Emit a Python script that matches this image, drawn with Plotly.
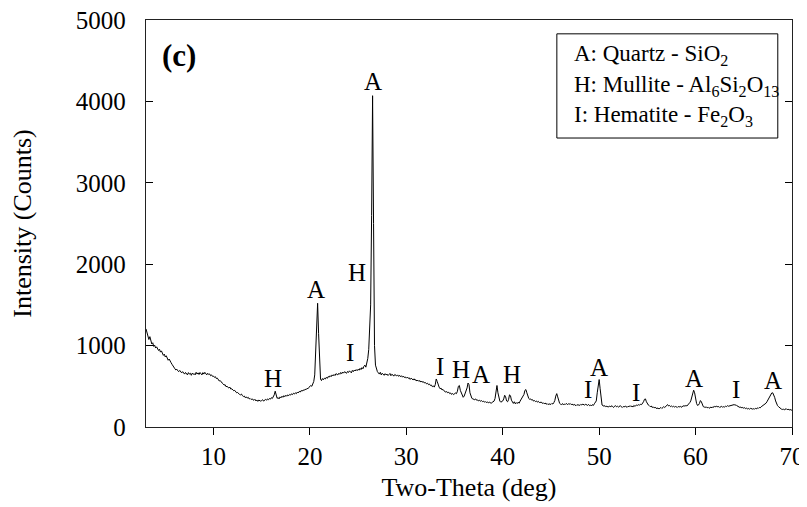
import plotly.graph_objects as go

# XRD scan: start angle, step (deg) and intensity (counts)
scan_start = 3.0
scan_step = 0.1
intensity = [
    # 3.0 - 3.9
    1205, 1150, 1090, 1075, 1110, 1040, 1020, 1035, 990, 1005,
    # 4
    970, 985, 950, 940, 955, 920, 935, 900, 880, 895,
    # 5
    860, 875, 840, 820, 835, 800, 790, 770, 745, 730,
    # 6
    715, 700, 710, 690, 680, 695, 672, 665, 680, 660,
    # 7
    650, 670, 655, 640, 668, 650, 660, 635, 662, 648,
    # 8
    655, 640, 672, 650, 665, 645, 670, 652, 640, 668,
    # 9
    650, 672, 655, 640, 660, 645, 652, 630, 640, 622,
    # 10
    625, 610, 618, 595, 600, 578, 565, 570, 548, 540,
    # 11
    530, 515, 520, 495, 500, 485, 478, 490, 465, 470,
    # 12
    458, 445, 450, 430, 420, 425, 405, 400, 395, 405,
    # 13
    385, 375, 380, 360, 370, 355, 365, 345, 350, 338,
    # 14
    345, 335, 328, 340, 320, 332, 315, 330, 322, 318,
    # 15
    325, 335, 318, 330, 340, 328, 345, 335, 350, 342,
    # 16
    360, 350, 368, 395, 440, 385, 352, 362, 345, 370,
    # 17
    358, 378, 365, 385, 372, 390, 378, 395, 385, 400,
    # 18
    392, 408, 398, 415, 405, 420, 410, 430, 418, 438,
    # 19
    430, 448, 440, 455, 448, 465, 458, 475, 470, 488,
    # 20
    495, 510, 500, 525, 560, 640, 900, 1280, 1520, 1150,
    # 21
    700, 590, 570, 595, 580, 600, 590, 610, 598, 620,
    # 22
    612, 630, 618, 640, 628, 645, 632, 655, 648, 640,
    # 23
    660, 648, 670, 655, 675, 662, 680, 668, 660, 682,
    # 24
    670, 690, 675, 665, 695, 680, 700, 688, 705, 692,
    # 25
    710, 698, 720, 705, 730, 715, 745, 760, 735, 790,
    # 26
    840, 950, 1150, 1500, 2600, 4070, 2500, 1000, 760, 700,
    # 27
    680, 665, 650, 672, 640, 660, 648, 635, 655, 640,
    # 28
    650, 632, 645, 658, 630, 648, 640, 625, 645, 632,
    # 29
    628, 640, 622, 635, 618, 630, 612, 625, 608, 615,
    # 30
    600, 612, 598, 605, 585, 600, 590, 578, 592, 575,
    # 31
    580, 565, 575, 560, 570, 552, 565, 548, 555, 540,
    # 32
    545, 530, 538, 520, 528, 510, 515, 495, 505, 490,
    # 33
    520, 590, 560, 510, 490, 470, 478, 455, 462, 445,
    # 34
    440, 428, 435, 420, 428, 410, 418, 400, 412, 398,
    # 35
    405, 420, 410, 440, 500, 510, 450, 420, 380, 365,
    # 36
    380, 410, 440, 480, 540, 520, 420, 370, 352, 345,
    # 37
    340, 335, 345, 328, 332, 320, 330, 315, 325, 312,
    # 38
    318, 305, 312, 300, 310, 296, 305, 300, 292, 302,
    # 39
    310, 318, 350, 440, 510, 420, 340, 318, 305, 310,
    # 40
    320, 345, 390, 370, 320, 310, 335, 395, 385, 330,
    # 41
    300, 290, 310, 285, 300, 288, 305, 292, 318, 340,
    # 42
    350, 365, 400, 450, 460, 420, 370, 350, 340, 345,
    # 43
    330, 335, 318, 325, 312, 320, 305, 315, 300, 298,
    # 44
    305, 290, 298, 285, 295, 280, 288, 275, 285, 280,
    # 45
    278, 290, 282, 300, 325, 380, 410, 370, 310, 290,
    # 46
    280, 275, 288, 270, 282, 278, 290, 275, 285, 280,
    # 47
    288, 275, 282, 268, 278, 270, 262, 275, 268, 272,
    # 48
    265, 278, 270, 282, 275, 268, 280, 272, 265, 278,
    # 49
    262, 270, 258, 275, 265, 285, 300, 320, 420, 550,
    # 50
    583, 470, 330, 270, 262, 255, 262, 248, 258, 245,
    # 51
    250, 258, 245, 262, 250, 240, 255, 262, 248, 255,
    # 52
    245, 255, 262, 248, 240, 252, 245, 258, 250, 242,
    # 53
    255, 248, 262, 250, 258, 245, 265, 255, 262, 270,
    # 54
    265, 275, 268, 280, 275, 290, 310, 340, 345, 310,
    # 55
    285, 270, 262, 250, 258, 240, 248, 235, 242, 230,
    # 56
    225, 235, 222, 230, 240, 228, 245, 250, 240, 255,
    # 57
    262, 275, 258, 265, 250, 258, 248, 255, 245, 252,
    # 58
    248, 240, 252, 245, 255, 242, 250, 258, 262, 255,
    # 59
    265, 258, 270, 280, 300, 320, 370, 430, 452, 420,
    # 60
    350, 290, 265, 270, 290, 325, 310, 265, 250, 245,
    # 61
    240, 248, 235, 242, 230, 238, 245, 235, 250, 242,
    # 62
    255, 248, 258, 245, 252, 240, 248, 255, 242, 250,
    # 63
    245, 255, 250, 262, 255, 258, 265, 262, 270, 268,
    # 64
    275, 268, 272, 260, 252, 248, 240, 245, 235, 240,
    # 65
    230, 238, 225, 232, 222, 228, 218, 230, 225, 220,
    # 66
    225, 218, 230, 222, 235, 228, 240, 235, 248, 255,
    # 67
    262, 270, 278, 292, 310, 330, 355, 380, 405, 418,
    # 68
    420, 400, 365, 320, 285, 262, 250, 235, 228, 220,
    # 69
    215, 222, 210, 218, 225, 212, 220, 208, 215, 210,
    # 70
    205,
]
two_theta = [round(scan_start + scan_step * i, 1) for i in range(len(intensity))]

# Phase labels on the peaks
peak_labels = ["H", "A", "I", "H", "A", "I", "H", "A", "H", "I", "A", "I", "A", "I", "A"]
peak_label_x = [16.15, 20.6, 24.2, 24.9, 26.5, 33.45, 35.7, 37.7, 41.0, 48.8, 50.0, 53.8, 59.8, 64.2, 68.0]
peak_label_y = [595, 1687, 914, 1895, 4243, 746, 705, 644, 644, 460, 726, 420, 595, 460, 570]

legend_lines = [
    "A: Quartz - SiO<sub>2</sub>",
    "H: Mullite - Al<sub>6</sub>Si<sub>2</sub>O<sub>13</sub>",
    "I: Hematite - Fe<sub>2</sub>O<sub>3</sub>",
]
legend_line_y = [0.915, 0.837, 0.763]

x_ticks = [10, 20, 30, 40, 50, 60, 70]
y_ticks = [0, 1000, 2000, 3000, 4000, 5000]

FONT = "Liberation Serif, Times New Roman, serif"

fig = go.Figure()
fig.add_trace(go.Scatter(
    x=two_theta, y=intensity, mode="lines",
    line=dict(color="black", width=1), showlegend=False, hoverinfo="skip",
))

for t, xx, yy in zip(peak_labels, peak_label_x, peak_label_y):
    fig.add_annotation(x=xx, y=yy, text=t, showarrow=False, xref="x", yref="y",
                       xanchor="center", yanchor="middle",
                       font=dict(family=FONT, size=25, color="black"))

# Legend box
fig.add_shape(type="rect", xref="paper", yref="paper",
              x0=0.636, x1=0.978, y0=0.710, y1=0.966,
              line=dict(color="black", width=1), fillcolor="white")
for txt, yy in zip(legend_lines, legend_line_y):
    fig.add_annotation(x=0.659, y=yy, xref="paper", yref="paper", text=txt,
                       showarrow=False, xanchor="left", yanchor="middle",
                       font=dict(family=FONT, size=23, color="black"))

fig.add_annotation(x=0.051, y=0.914, xref="paper", yref="paper", text="<b>(c)</b>",
                   showarrow=False, xanchor="center", yanchor="middle",
                   font=dict(family=FONT, size=31, color="black"))

# The page body adds an 8px margin, so the figure is 799x499 and sits at (8, 8)
fig.update_layout(
    width=799, height=499,
    margin=dict(l=138, r=15, t=12, b=80, autoexpand=False),
    paper_bgcolor="white", plot_bgcolor="white",
    font=dict(family=FONT, size=25, color="black"),
    xaxis=dict(
        range=[3, 70], tickvals=x_ticks, ticks="outside", ticklen=7, tickwidth=1,
        tickcolor="black", showline=True, linecolor="#222", linewidth=1.3,
        mirror=True, showgrid=False, zeroline=False, automargin=False,
        title=dict(text="Two-Theta (deg)", font=dict(family=FONT, size=26), standoff=8),
        tickfont=dict(family=FONT, size=25), ticklabelstandoff=0,
        ticklabeloverflow="allow",
    ),
    yaxis=dict(
        range=[0, 5000], tickvals=y_ticks, ticks="inside", ticklen=7, tickwidth=1,
        tickcolor="black", showline=True, linecolor="#222", linewidth=1.3,
        mirror="ticks", showgrid=False, zeroline=False, automargin=False,
        title=dict(text="Intensity (Counts)", font=dict(family=FONT, size=26), standoff=45),
        tickfont=dict(family=FONT, size=25), ticklabelstandoff=14,
        ticklabeloverflow="allow",
    ),
)

fig.write_html("out.html")
